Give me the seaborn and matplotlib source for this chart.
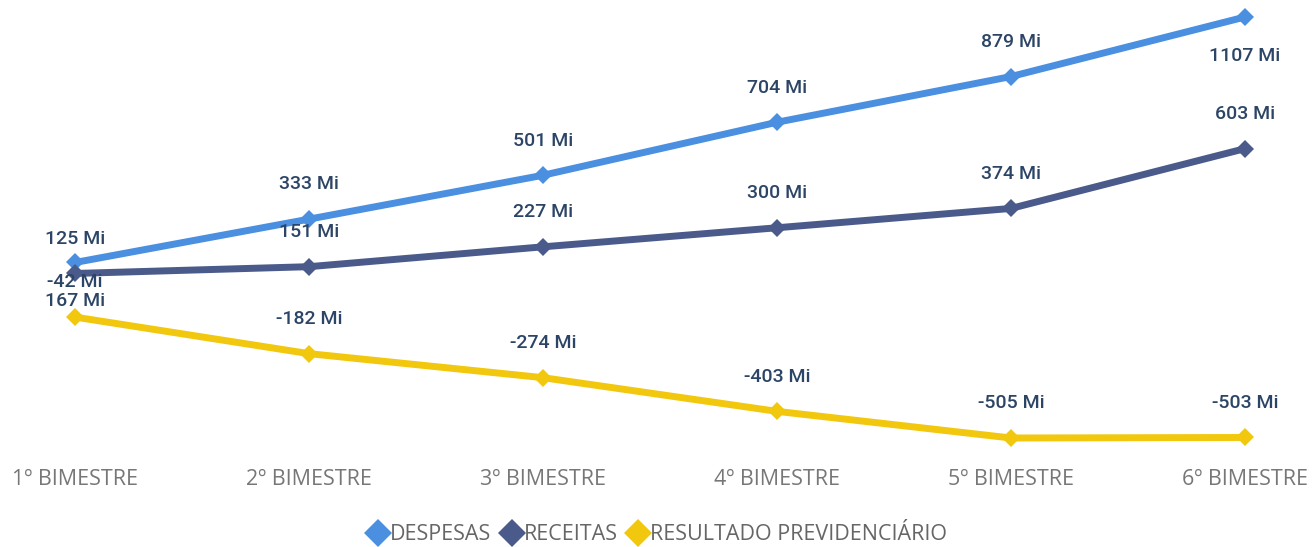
import matplotlib
matplotlib.use("Agg")
import matplotlib.pyplot as plt
from matplotlib.lines import Line2D
import seaborn as sns
import pandas as pd

# --------------------
# Data
# --------------------

periodos = ["1º BIMESTRE", "2º BIMESTRE", "3º BIMESTRE",
            "4º BIMESTRE", "5º BIMESTRE", "6º BIMESTRE"]
despesas = [167, 333, 501, 704, 879, 1107]
receitas = [125, 151, 227, 300, 374, 603]
resultado = [-42, -182, -274, -403, -505, -503]

series = ["DESPESAS", "RECEITAS", "RESULTADO PREVIDENCIÁRIO"]
cores = ["#4A8FE0", "#4A5A8A", "#F2C80F"]

df = pd.DataFrame({
    "x": list(range(len(periodos))) * 3,
    "valor": despesas + receitas + resultado,
    "serie": [s for s in series for _ in periodos],
})

# --------------------
# Plot
# --------------------

sns.set_theme(style="white")
plt.rcParams["font.family"] = ["Open Sans", "DejaVu Sans"]

fig = plt.figure(figsize=(13.13, 5.47), dpi=100)
ax = fig.add_axes([75 / 1313, 109 / 547, 1170 / 1313, 421 / 547])

sns.lineplot(data=df, x="x", y="valor", hue="serie", palette=cores,
             hue_order=series, marker="D", markersize=9, markeredgewidth=0,
             linewidth=5, ax=ax, legend=False, clip_on=False)
for ln in ax.lines:
    ln.set_clip_on(False)
    ln.set_solid_capstyle("butt")

ax.set_xlim(0, len(periodos) - 1)
ax.set_ylim(min(resultado), max(despesas))
ax.set_xticks(range(len(periodos)))
ax.set_xticklabels(periodos, fontsize=15.5, color="#777777")
ax.tick_params(axis="x", length=0, pad=22)
ax.set_yticks([])
ax.set_xlabel("")
ax.set_ylabel("")
for sp in ax.spines.values():
    sp.set_visible(False)

# data labels (above the point, a few are placed below like in the report)
rotulo = {"fontsize": 14, "color": "#2C4566", "ha": "center", "va": "center",
          "family": ["Roboto", "DejaVu Sans"], "fontweight": "medium"}
for nome, vals in zip(series, [despesas, receitas, resultado]):
    for i, v in enumerate(vals):
        abaixo = nome == "DESPESAS" and i in (0, len(vals) - 1)
        dy = -28 if abaixo else 25
        ax.annotate(f"{v} Mi", (i, v), xytext=(0, dy), textcoords="offset points",
                    annotation_clip=False, **rotulo)

handles = [Line2D([], [], linestyle="none", marker="D", markersize=14,
                  markeredgewidth=0, color=c) for c in cores]
fig.legend(handles, series, loc="center", bbox_to_anchor=(0.5, 12 / 547),
           ncol=3, frameon=False, fontsize=15.5, handletextpad=0.0,
           columnspacing=0.4, handlelength=1.1, labelcolor="#666666")

fig.savefig("out.png", dpi=100)
